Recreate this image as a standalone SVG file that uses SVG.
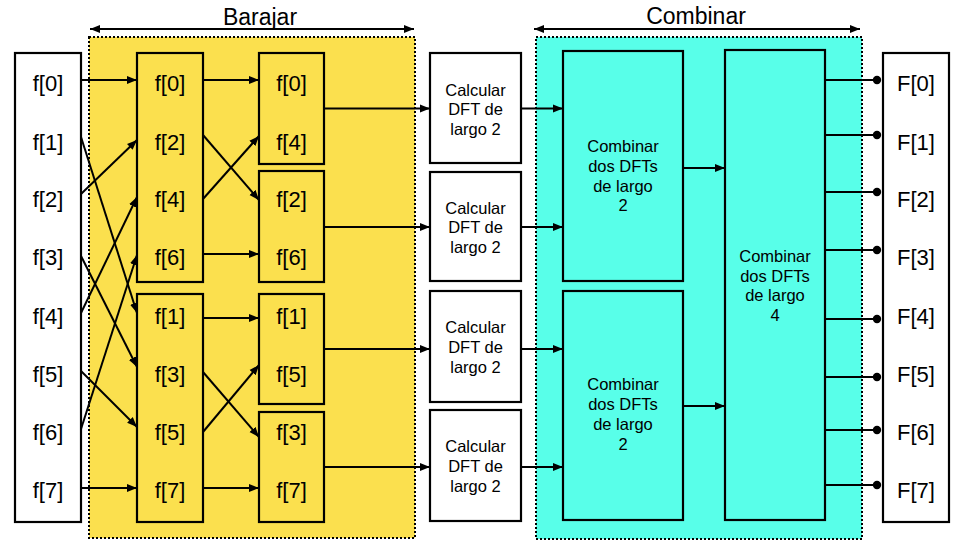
<svg xmlns="http://www.w3.org/2000/svg" width="962" height="551" viewBox="0 0 962 551">
<defs>
<marker id="ah" markerUnits="userSpaceOnUse" markerWidth="11" markerHeight="9" refX="10" refY="4.5" orient="auto-start-reverse">
<path d="M0,0.5 L10,4.5 L0,8.5 z" fill="#000"/>
</marker>
<marker id="dot" markerUnits="userSpaceOnUse" markerWidth="10" markerHeight="10" refX="5" refY="5" orient="auto">
<circle cx="5" cy="5" r="4.2" fill="#000"/>
</marker>
<style>
.box{stroke:#000;stroke-width:2.2;}
.w{fill:#fff;}
.y{fill:#FBE04E;}
.c{fill:#58FFE9;}
.region{stroke:#000;stroke-width:2;stroke-dasharray:2 2;}
.big{font-family:"Liberation Sans",Arial,sans-serif;font-size:22px;fill:#000;text-anchor:middle;}
.hdr{font-family:"Liberation Sans",Arial,sans-serif;font-size:23px;fill:#000;text-anchor:middle;}
.sm{font-family:"Liberation Sans",Arial,sans-serif;font-size:16.5px;fill:#000;text-anchor:middle;}
.ln{stroke:#000;stroke-width:2;fill:none;}
.arr{marker-end:url(#ah);}
.out{marker-end:url(#dot);}
</style>
</defs>

<g id="regions">
<rect id="barajar-region" class="region y" x="89" y="37" width="326" height="501"/>
<rect id="combinar-region" class="region c" x="536" y="37" width="326" height="502"/>
</g>

<g id="headers">
<text class="hdr" x="260" y="25">Barajar</text>
<line class="ln" x1="90" y1="29" x2="414" y2="29" marker-start="url(#ah)" marker-end="url(#ah)"/>
<text class="hdr" x="696" y="24">Combinar</text>
<line class="ln" x1="534" y1="29" x2="860" y2="29" marker-start="url(#ah)" marker-end="url(#ah)"/>
</g>

<g id="input">
<rect class="box w" x="15" y="53" width="66" height="469"/>
<text class="big" x="48" y="91">f[0]</text>
<text class="big" x="48" y="150">f[1]</text>
<text class="big" x="48" y="207">f[2]</text>
<text class="big" x="48" y="265">f[3]</text>
<text class="big" x="48" y="324">f[4]</text>
<text class="big" x="48" y="382">f[5]</text>
<text class="big" x="48" y="440">f[6]</text>
<text class="big" x="48" y="498">f[7]</text>
</g>

<g id="even4">
<rect class="box y" x="137" y="53" width="66" height="229"/>
<text class="big" x="170" y="91">f[0]</text>
<text class="big" x="170" y="150">f[2]</text>
<text class="big" x="170" y="207">f[4]</text>
<text class="big" x="170" y="265">f[6]</text>
</g>
<g id="odd4">
<rect class="box y" x="137" y="294" width="66" height="228"/>
<text class="big" x="170" y="324">f[1]</text>
<text class="big" x="170" y="382">f[3]</text>
<text class="big" x="170" y="440">f[5]</text>
<text class="big" x="170" y="498">f[7]</text>
</g>

<g id="pair04">
<rect class="box y" x="259" y="53" width="65" height="111"/>
<text class="big" x="291.5" y="91">f[0]</text>
<text class="big" x="291.5" y="150">f[4]</text>
</g>
<g id="pair26">
<rect class="box y" x="259" y="171" width="65" height="111"/>
<text class="big" x="291.5" y="207">f[2]</text>
<text class="big" x="291.5" y="265">f[6]</text>
</g>
<g id="pair15">
<rect class="box y" x="259" y="294" width="65" height="110"/>
<text class="big" x="291.5" y="324">f[1]</text>
<text class="big" x="291.5" y="382">f[5]</text>
</g>
<g id="pair37">
<rect class="box y" x="259" y="412" width="65" height="110"/>
<text class="big" x="291.5" y="440">f[3]</text>
<text class="big" x="291.5" y="498">f[7]</text>
</g>

<g id="dft1">
<rect class="box w" x="430" y="53" width="91" height="110"/>
<text class="sm" x="475.5" y="96">Calcular</text>
<text class="sm" x="475.5" y="115">DFT de</text>
<text class="sm" x="475.5" y="135">largo 2</text>
</g>
<g id="dft2">
<rect class="box w" x="430" y="172" width="91" height="109"/>
<text class="sm" x="475.5" y="214">Calcular</text>
<text class="sm" x="475.5" y="233">DFT de</text>
<text class="sm" x="475.5" y="253">largo 2</text>
</g>
<g id="dft3">
<rect class="box w" x="430" y="291" width="91" height="111"/>
<text class="sm" x="475.5" y="333">Calcular</text>
<text class="sm" x="475.5" y="353">DFT de</text>
<text class="sm" x="475.5" y="373">largo 2</text>
</g>
<g id="dft4">
<rect class="box w" x="430" y="410" width="91" height="111"/>
<text class="sm" x="475.5" y="452">Calcular</text>
<text class="sm" x="475.5" y="472">DFT de</text>
<text class="sm" x="475.5" y="492">largo 2</text>
</g>

<g id="comb2a">
<rect class="box c" x="563" y="51" width="120" height="230"/>
<text class="sm" x="623" y="152">Combinar</text>
<text class="sm" x="623" y="172">dos DFTs</text>
<text class="sm" x="623" y="192">de largo</text>
<text class="sm" x="623" y="211">2</text>
</g>
<g id="comb2b">
<rect class="box c" x="563" y="291" width="120" height="229"/>
<text class="sm" x="623" y="390">Combinar</text>
<text class="sm" x="623" y="410">dos DFTs</text>
<text class="sm" x="623" y="430">de largo</text>
<text class="sm" x="623" y="450">2</text>
</g>
<g id="comb4">
<rect class="box c" x="725" y="50" width="100" height="470"/>
<text class="sm" x="775" y="262">Combinar</text>
<text class="sm" x="775" y="282">dos DFTs</text>
<text class="sm" x="775" y="301">de largo</text>
<text class="sm" x="775" y="321">4</text>
</g>

<g id="output">
<rect class="box w" x="883" y="53" width="66" height="469"/>
<text class="big" x="916" y="91">F[0]</text>
<text class="big" x="916" y="150">F[1]</text>
<text class="big" x="916" y="207">F[2]</text>
<text class="big" x="916" y="265">F[3]</text>
<text class="big" x="916" y="324">F[4]</text>
<text class="big" x="916" y="382">F[5]</text>
<text class="big" x="916" y="440">F[6]</text>
<text class="big" x="916" y="498">F[7]</text>
</g>

<g id="connectors">
<line class="ln arr" x1="81" y1="80" x2="137" y2="80"/>
<line class="ln arr" x1="81" y1="137" x2="137" y2="313"/>
<line class="ln arr" x1="81" y1="194" x2="137" y2="140"/>
<line class="ln arr" x1="81" y1="256" x2="137" y2="367"/>
<line class="ln arr" x1="81" y1="313" x2="137" y2="197"/>
<line class="ln arr" x1="81" y1="371" x2="137" y2="427"/>
<line class="ln arr" x1="81" y1="429" x2="137" y2="255"/>
<line class="ln arr" x1="81" y1="488" x2="137" y2="488"/>

<line class="ln arr" x1="203" y1="80" x2="259" y2="80"/>
<line class="ln arr" x1="203" y1="135" x2="259" y2="200"/>
<line class="ln arr" x1="203" y1="199" x2="259" y2="136"/>
<line class="ln arr" x1="203" y1="254" x2="259" y2="254"/>
<line class="ln arr" x1="203" y1="318" x2="259" y2="318"/>
<line class="ln arr" x1="203" y1="372" x2="259" y2="437"/>
<line class="ln arr" x1="203" y1="432" x2="259" y2="365"/>
<line class="ln arr" x1="203" y1="488" x2="259" y2="488"/>

<line class="ln arr" x1="324" y1="108.5" x2="430" y2="108.5"/>
<line class="ln arr" x1="324" y1="227" x2="430" y2="227"/>
<line class="ln arr" x1="324" y1="349" x2="430" y2="349"/>
<line class="ln arr" x1="324" y1="467" x2="430" y2="467"/>

<line class="ln arr" x1="521" y1="108.5" x2="563" y2="108.5"/>
<line class="ln arr" x1="521" y1="227" x2="563" y2="227"/>
<line class="ln arr" x1="521" y1="349" x2="563" y2="349"/>
<line class="ln arr" x1="521" y1="467" x2="563" y2="467"/>

<line class="ln arr" x1="683" y1="168" x2="725" y2="168"/>
<line class="ln arr" x1="683" y1="406" x2="725" y2="406"/>

<line class="ln out" x1="825" y1="80" x2="877" y2="80"/>
<line class="ln out" x1="825" y1="135" x2="877" y2="135"/>
<line class="ln out" x1="825" y1="192" x2="877" y2="192"/>
<line class="ln out" x1="825" y1="250" x2="877" y2="250"/>
<line class="ln out" x1="825" y1="319" x2="877" y2="319"/>
<line class="ln out" x1="825" y1="377" x2="877" y2="377"/>
<line class="ln out" x1="825" y1="430" x2="877" y2="430"/>
<line class="ln out" x1="825" y1="485" x2="877" y2="485"/>
</g>
</svg>
